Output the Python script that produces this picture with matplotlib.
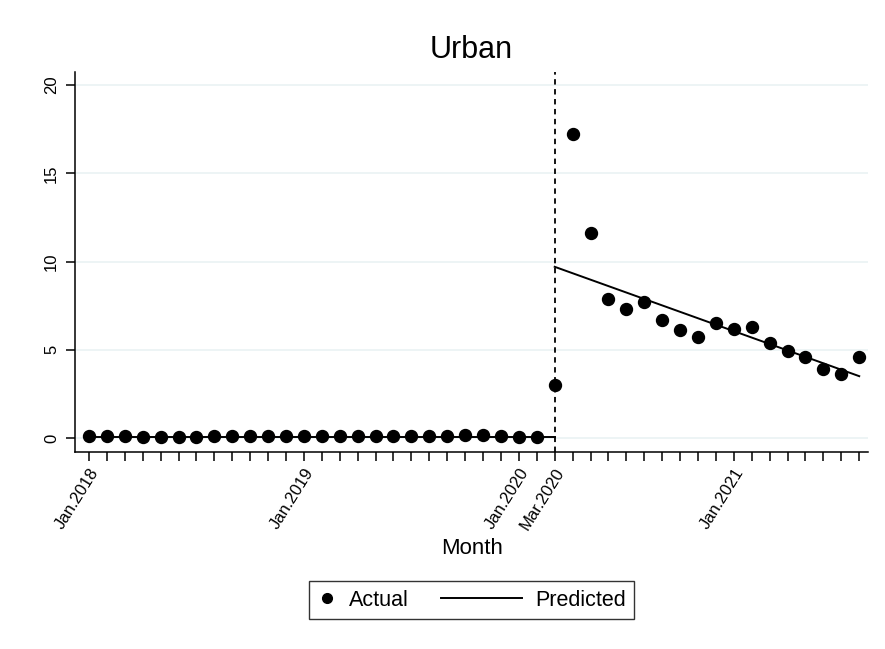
import matplotlib.pyplot as plt
from matplotlib.lines import Line2D
from matplotlib.legend_handler import HandlerLine2D

plt.rcParams['font.family'] = ['Liberation Sans', 'DejaVu Sans']

# month index 0 = Jan.2018
months_pre = list(range(0, 26))
actual_pre = [0.1, 0.1, 0.1, 0.08, 0.08, 0.08, 0.08, 0.1, 0.1, 0.12, 0.12, 0.1, 0.1,
              0.1, 0.12, 0.12, 0.1, 0.12, 0.1, 0.1, 0.12, 0.15, 0.15, 0.1, 0.08, 0.08]
months_post = list(range(26, 44))
actual_post = [3.0, 17.2, 11.6, 7.9, 7.3, 7.7, 6.7, 6.1, 5.7, 6.5, 6.2, 6.3,
               5.4, 4.9, 4.6, 3.9, 3.6, 4.6]
pred_pre_x = [0, 26]
pred_pre_y = [0.08, 0.08]
pred_post_x = [26, 43]
pred_post_y = [9.7, 3.5]

tick_pos = [0, 12, 24, 26, 36]
tick_labels = ["Jan.2018", "Jan.2019", "Jan.2020", "Mar.2020", "Jan.2021"]
yticks = [0, 5, 10, 15, 20]


class LongLine(HandlerLine2D):
    # legend line that reaches further left than the handle box
    def create_artists(self, legend, orig_handle, xdescent, ydescent,
                       width, height, fontsize, trans):
        ext = 45
        y = (height - ydescent) / 2.
        ln = Line2D([-xdescent - ext, width - xdescent], [y, y], color='black', lw=1.4)
        ln.set_transform(trans)
        return [ln]


fig = plt.figure(figsize=(8.85, 6.49), dpi=100)
ax = fig.add_axes([0.0847, 0.3035, 0.8963, 0.5855])

for y in yticks:
    ax.axhline(y, color='#eaf2f3', lw=1.2, zorder=0)

ax.plot(pred_pre_x, pred_pre_y, color='black', lw=1.4, zorder=2)
ax.plot(pred_post_x, pred_post_y, color='black', lw=1.4, zorder=2)
ax.plot(months_pre + months_post, actual_pre + actual_post, 'o', color='black',
        markersize=8.6, linestyle='none', zorder=3)
ax.axvline(26, color='black', lw=1.3, linestyle=(0, (3, 2.5)), zorder=2)

ax.set_xlim(-0.78, 43.5)
ax.set_ylim(-0.8, 20.74)

ax.set_xticks(tick_pos)
ax.set_xticklabels(tick_labels, rotation=58, ha='right', rotation_mode='anchor', fontsize=12)
ax.set_xticks(list(range(0, 44)), minor=True)
ax.tick_params(axis='x', which='both', length=6.5, width=1.1, color='black', pad=3)
ax.set_yticks(yticks)
ax.set_yticklabels([str(v) for v in yticks], rotation=90, va='center', fontsize=12)
ax.tick_params(axis='y', length=6.5, width=1.1, pad=5)

ax.spines['top'].set_visible(False)
ax.spines['right'].set_visible(False)
ax.spines['left'].set_linewidth(1.1)
ax.spines['bottom'].set_linewidth(1.1)

ax.set_title("Urban", fontsize=22, pad=10)
ax.set_xlabel("Month", fontsize=16, labelpad=4)

h1 = Line2D([], [], marker='o', color='black', linestyle='none', markersize=7)
h2 = Line2D([], [], color='black', lw=1.4)
fig.legend([h1, h2], ["Actual", "Predicted"], loc='center', bbox_to_anchor=(0.5333, 0.0755),
           ncol=2, fontsize=15.5, frameon=True, fancybox=False, edgecolor='black',
           handlelength=0.85, handletextpad=0.6, columnspacing=4.4, borderpad=0.4,
           handler_map={h2: LongLine()})

fig.savefig("out.png", dpi=100)
